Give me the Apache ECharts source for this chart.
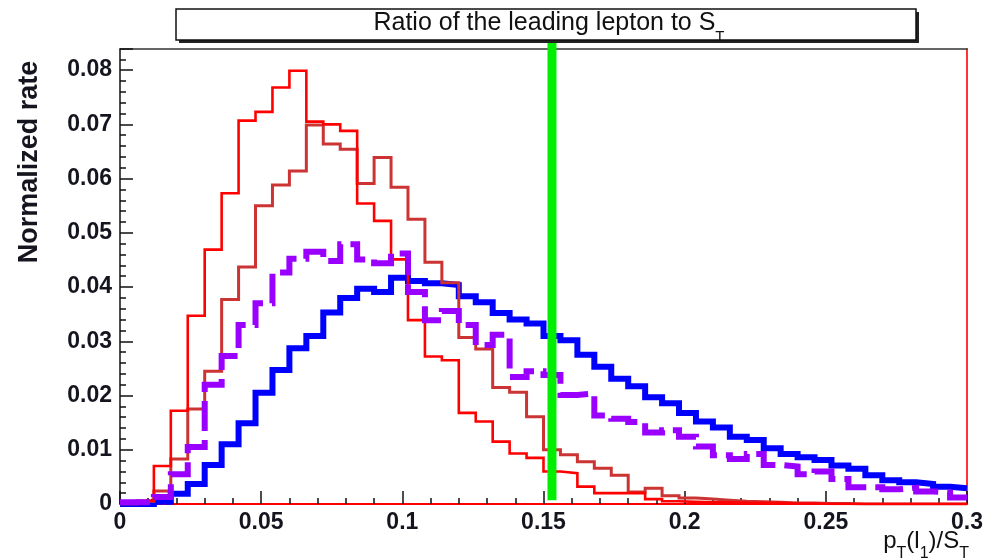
<!DOCTYPE html>
<html>
<head>
<meta charset="utf-8">
<script src="https://cdn.jsdelivr.net/npm/echarts@6/dist/echarts.min.js"></script>
<style>
html,body{margin:0;padding:0;background:#fff;}
#c{width:987px;height:560px;}
</style>
</head>
<body>
<div id="c"></div>
<script>
// ---- data ----
const BIN_EDGES = [0,0.006,0.012,0.018,0.024,0.03,0.036,0.042,0.048,0.054,0.06,0.066,0.072,0.078,0.084,0.09,0.096,0.102,0.108,0.114,0.12,0.126,0.132,0.138,0.144,0.15,0.156,0.162,0.168,0.174,0.18,0.186,0.192,0.198,0.204,0.21,0.216,0.222,0.228,0.234,0.24,0.246,0.252,0.258,0.264,0.27,0.276,0.282,0.288,0.294,0.3];

const RED = [0.0000,0.0006,0.0070,0.0172,0.0347,0.0469,0.0573,0.0707,0.0723,0.0768,
             0.0799,0.0705,0.0700,0.0688,0.0554,0.0522,0.0451,0.0339,0.0272,0.0265,
             0.0168,0.0152,0.0115,0.0093,0.0085,0.0060,0.0057,0.0032,0.0020,0.0020,
             0.0020,0.0009,0.0005,0.0004,0.0003,0.0003,0.0002,0.0002,0.0002,0.0001,
             0.0001,0,0,0,0,0,0,0,0,0];

const BROWN = [0.0000,0.0005,0.0024,0.0083,0.0175,0.0245,0.0377,0.0437,0.0550,0.0588,
               0.0614,0.0699,0.0664,0.0654,0.0591,0.0639,0.0584,0.0525,0.0446,0.0408,
               0.0307,0.0286,0.0215,0.0206,0.0161,0.0100,0.0091,0.0078,0.0066,0.0053,
               0.0022,0.0029,0.0015,0.0011,0.0009,0.0007,0.0005,0.0004,0.0003,0.0002,
               0.0002,0.0001,0.0001,0,0,0,0,0,0,0];

const PURPLE = [0.0003,0.0003,0.0013,0.0055,0.0105,0.0220,0.0273,0.0330,0.0370,0.0427,
                0.0452,0.0465,0.0448,0.0479,0.0451,0.0444,0.0462,0.0391,0.0339,0.0356,
                0.0330,0.0293,0.0312,0.0234,0.0245,0.0238,0.0201,0.0204,0.0163,0.0157,
                0.0151,0.0132,0.0136,0.0124,0.0106,0.0090,0.0083,0.0092,0.0072,0.0069,
                0.0055,0.0060,0.0046,0.0031,0.0031,0.0027,0.0030,0.0023,0.0021,0.0012];

const BLUE = [0.0000,0.0000,0.0004,0.0019,0.0037,0.0072,0.0110,0.0149,0.0205,0.0247,
              0.0287,0.0310,0.0353,0.0380,0.0397,0.0391,0.0417,0.0411,0.0407,0.0404,
              0.0383,0.0372,0.0352,0.0340,0.0333,0.0310,0.0302,0.0275,0.0253,0.0231,
              0.0217,0.0197,0.0186,0.0168,0.0152,0.0141,0.0124,0.0118,0.0103,0.0092,
              0.0086,0.0081,0.0071,0.0065,0.0053,0.0044,0.0040,0.0037,0.0032,0.0029];

const CUT_X = 0.153;
const CUT_Y = [0.0007, 0.0855];

const X_TICKS = [0, 0.05, 0.1, 0.15, 0.2, 0.25, 0.3];
const Y_MAX = 0.0839;

// ---- build ----
function stepData(vals) {
  return BIN_EDGES.map((x, i) => [x, vals[Math.min(i, vals.length - 1)]]);
}
function fmt(v) { return v === 0 ? '0' : String(+v.toFixed(4)); }

const FONT = 'Liberation Sans';
const chart = echarts.init(document.getElementById('c'), null, {renderer: 'canvas'});

function hist(name, vals, color, width, dash) {
  return {
    name, type: 'line', step: 'end', data: stepData(vals),
    symbol: 'none', showSymbol: false, silent: true,
    lineStyle: {color, width, type: dash || 'solid', join: 'miter', cap: 'butt'},
    z: 3
  };
}

const option = {
  animation: false,
  backgroundColor: '#fff',
  grid: {left: 120, right: 20, top: 49, bottom: 56, containLabel: false},
  xAxis: [{
    type: 'value', min: 0, max: 0.3, interval: 0.05,
    axisLine: {show: true, onZero: false, lineStyle: {color: '#ff0000', width: 2}},
    axisTick: {show: true, inside: true, length: 13, lineStyle: {color: '#111', width: 1.5}},
    minorTick: {show: true, splitNumber: 5, length: 6, lineStyle: {color: '#111', width: 1.5}},
    splitLine: {show: false},
    axisLabel: {formatter: fmt, fontFamily: FONT, fontWeight: 'bold', fontSize: 23, color: '#151520', margin: 7}
  }, {
    type: 'value', min: 0, max: 0.3, position: 'top',
    axisLine: {show: true, onZero: false, lineStyle: {color: '#333', width: 1.5}},
    axisTick: {show: false}, axisLabel: {show: false}, splitLine: {show: false}
  }],
  yAxis: [{
    type: 'value', min: 0, max: Y_MAX, interval: 0.01,
    axisLine: {show: true, onZero: false, lineStyle: {color: '#111', width: 1.5}},
    axisTick: {show: true, inside: true, length: 13, lineStyle: {color: '#111', width: 1.5}},
    minorTick: {show: true, splitNumber: 5, length: 6, lineStyle: {color: '#111', width: 1.5}},
    splitLine: {show: false},
    axisLabel: {formatter: fmt, showMaxLabel: false, fontFamily: FONT, fontWeight: 'bold', fontSize: 23, color: '#151520', margin: 8}
  }, {
    type: 'value', min: 0, max: Y_MAX, position: 'right',
    axisLine: {show: true, onZero: false, lineStyle: {color: '#ff3333', width: 2}},
    axisTick: {show: false}, axisLabel: {show: false}, splitLine: {show: false}
  }],
  series: [
    hist('blue', BLUE, '#0000ff', 6),
    hist('brown', BROWN, '#cc3333', 3),
    hist('red', RED, '#ff0000', 2.6),
    hist('purple', PURPLE, '#9900ff', 6, [30, 9]),
    {
      name: 'cut', type: 'line', data: [[CUT_X, CUT_Y[0]], [CUT_X, CUT_Y[1]]],
      symbol: 'none', silent: true, clip: false, z: 10,
      lineStyle: {color: '#00ee00', width: 9, cap: 'butt'}
    }
  ],
  graphic: [
    {type: 'rect', shape: {x: 179, y: 12, width: 740, height: 31}, style: {fill: '#222'}, z: 20},
    {type: 'rect', shape: {x: 176, y: 9, width: 740, height: 31}, style: {fill: '#fff', stroke: '#111', lineWidth: 1.5}, z: 21},
    {
      type: 'text', x: 549, y: 11, z: 22,
      style: {
        text: '{a|Ratio of the leading lepton to S}{s|T}',
        textAlign: 'center', textVerticalAlign: 'top',
        rich: {
          a: {fontFamily: FONT, fontSize: 25, lineHeight: 25, verticalAlign: 'top', fill: '#111'},
          s: {fontFamily: FONT, fontSize: 15, lineHeight: 33, verticalAlign: 'bottom', fill: '#111'}
        }
      }
    },
    {
      type: 'text', x: 30, y: 162, rotation: Math.PI / 2, z: 22,
      style: {
        text: 'Normalized rate', fontFamily: FONT, fontWeight: 'bold', fontSize: 27,
        fill: '#151520', textAlign: 'center', textVerticalAlign: 'middle'
      }
    },
    {
      type: 'text', x: 969, y: 529, z: 22,
      style: {
        text: '{a|p}{s|T}{a|(l}{s|1}{a|)/S}{s|T}',
        textAlign: 'right', textVerticalAlign: 'top',
        rich: {
          a: {fontFamily: FONT, fontSize: 24, lineHeight: 24, verticalAlign: 'top', fill: '#111'},
          s: {fontFamily: FONT, fontSize: 16, lineHeight: 33, verticalAlign: 'bottom', fill: '#111'}
        }
      }
    }
  ]
};
chart.setOption(option);
</script>
</body>
</html>
